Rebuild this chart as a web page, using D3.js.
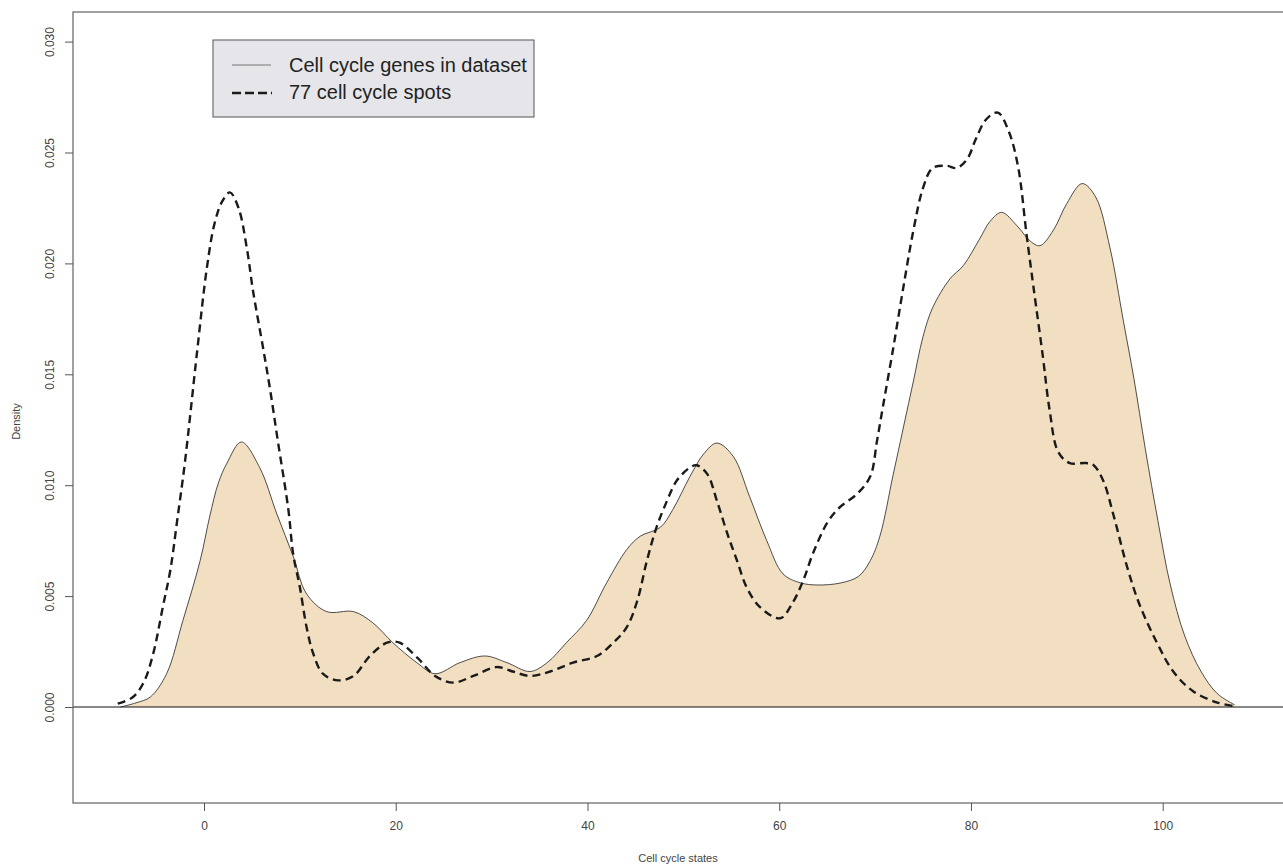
<!DOCTYPE html>
<html>
<head>
<meta charset="utf-8">
<script src="https://cdn.jsdelivr.net/npm/d3@7"></script>
<style>
  body { margin: 0; background: #fff; }
  text { font-family: "Liberation Sans", Arial, sans-serif; }
</style>
</head>
<body>
<div id="chart"></div>
<script>
const width = 1283;
const height = 867;

// density of cell cycle genes in dataset (filled curve)
const genesState = [-8.7, -7, -5.6, -3.9, -2.2, -0.4, 0.6, 1.5, 2.4, 3.9, 5.8, 7.6, 9.3, 10.7, 12.8, 15.6, 17.6, 19.7, 22.2, 24.1, 26.7, 29.3, 31.6, 34.0, 35.8, 37.8, 39.9, 42.0, 44.1, 45.5, 47.6, 48.9, 50.7, 52.1, 53.5, 55.2, 56.9, 58.7, 60.4, 62.2, 64.0, 66.5, 68.3, 69.5, 70.5, 71.9, 73.3, 74.0, 75.0, 76.0, 77.8, 79.2, 80.9, 82.0, 83.2, 84.8, 86.2, 87.2, 88.6, 90.0, 91.6, 93.0, 94.5, 95.9, 97.0, 98.2, 99.5, 100.8, 102.3, 104.0, 105.7, 107.5];
const genesDensity = [0, 0.0002, 0.00045, 0.0015, 0.0039, 0.0066, 0.0086, 0.0101, 0.011, 0.01195, 0.0108, 0.0087, 0.0068, 0.0051, 0.0043, 0.0043, 0.0038, 0.0029, 0.002, 0.0015, 0.002, 0.0023, 0.002, 0.0016, 0.002, 0.0029, 0.0039, 0.0056, 0.0071, 0.0077, 0.0081, 0.0089, 0.0104, 0.0114, 0.0119, 0.0113, 0.0095, 0.0075, 0.006, 0.0056, 0.0055, 0.0056, 0.0059, 0.0066, 0.0077, 0.0105, 0.0133, 0.0147, 0.0167, 0.018, 0.0193, 0.0199, 0.0211, 0.0219, 0.0223, 0.0217, 0.021, 0.0208, 0.0215, 0.0227, 0.0236, 0.023, 0.0207, 0.0174, 0.0148, 0.0116, 0.0084, 0.0055, 0.0032, 0.0016, 0.0006, 0.0001];

// density of the 77 cell cycle spots (dashed curve)
const spotsState = [-9.0, -7.4, -6.3, -5.3, -4.3, -3.5, -2.8, -2.0, -0.7, 0.3, 1.1, 1.9, 2.7, 3.6, 4.5, 5.1, 6.2, 6.9, 7.7, 8.8, 9.3, 10.0, 10.7, 11.4, 12.4, 14.0, 15.6, 17.3, 19.1, 20.4, 22.3, 24.1, 26.0, 28.1, 30.5, 32.2, 34.0, 36.1, 38.5, 41.0, 42.7, 44.1, 45.2, 46.2, 47.2, 48.3, 49.3, 50.7, 51.4, 52.5, 53.5, 54.6, 55.6, 56.6, 58.0, 60.1, 61.4, 62.5, 63.5, 65.0, 66.3, 68.1, 69.5, 70.2, 70.8, 71.9, 72.9, 74.0, 75.0, 76.0, 77.5, 78.5, 79.6, 80.5, 81.6, 82.8, 83.9, 84.9, 85.8, 86.5, 87.5, 88.2, 89.1, 90.3, 92.0, 92.8, 93.8, 94.9, 96.3, 97.6, 99.4, 101.1, 103.2, 105.7, 107.3];
const spotsDensity = [0.00015, 0.00045, 0.0011, 0.0024, 0.0045, 0.0062, 0.0084, 0.011, 0.0161, 0.0198, 0.0218, 0.0228, 0.0232, 0.0225, 0.0206, 0.0188, 0.0161, 0.0143, 0.012, 0.0089, 0.0069, 0.0054, 0.0036, 0.0024, 0.0015, 0.0012, 0.0014, 0.0023, 0.0029, 0.0029, 0.0022, 0.0014, 0.0011, 0.0014, 0.0018, 0.0016, 0.0014, 0.0016, 0.002, 0.0023, 0.0029, 0.0036, 0.0048, 0.0066, 0.0081, 0.0093, 0.0102, 0.0108, 0.0109, 0.0105, 0.0093, 0.0078, 0.0066, 0.0054, 0.0045, 0.004, 0.0047, 0.0057, 0.0069, 0.0083, 0.009, 0.0096, 0.0104, 0.012, 0.0135, 0.0162, 0.0188, 0.0215, 0.0234, 0.0243, 0.0244, 0.0243, 0.0247, 0.0256, 0.0265, 0.0268, 0.026, 0.0244, 0.0213, 0.019, 0.0158, 0.0134, 0.0115, 0.011, 0.011, 0.0109, 0.0102, 0.0086, 0.0063, 0.0046, 0.0029, 0.0016, 0.0007, 0.0002, 0.00005];

const xTicks = [0, 20, 40, 60, 80, 100];
const yTicks = [0, 0.005, 0.01, 0.015, 0.02, 0.025, 0.03];
const legendLabels = ["Cell cycle genes in dataset", "77 cell cycle spots"];

const plot = { left: 73, top: 12, right: 1283, bottom: 803 };

const svg = d3
  .select("#chart")
  .append("svg")
  .attr("width", width)
  .attr("height", height);

const xScale = d3.scaleLinear().domain([0, 100]).range([204, 1162.7]);
const yScale = d3.scaleLinear().domain([0, 0.03]).range([707, 41.6]);

const genes = genesState.map((s, i) => [s, genesDensity[i]]);
const spots = spotsState.map((s, i) => [s, spotsDensity[i]]);

const curve = d3.curveCatmullRom.alpha(0.5);

// filled area
svg.append("path")
  .datum(genes)
  .attr("fill", "#F2DFC1")
  .attr("d", d3.area()
    .x((d) => xScale(d[0]))
    .y0(yScale(0))
    .y1((d) => yScale(Math.max(0, d[1])))
    .curve(curve));

svg.append("path")
  .datum(genes)
  .attr("fill", "none")
  .attr("stroke", "#222")
  .attr("stroke-width", 0.8)
  .attr("d", d3.line()
    .x((d) => xScale(d[0]))
    .y((d) => yScale(d[1]))
    .curve(curve));

// zero line
svg.append("line")
  .attr("x1", plot.left).attr("x2", plot.right)
  .attr("y1", yScale(0)).attr("y2", yScale(0))
  .attr("stroke", "#111")
  .attr("stroke-width", 1);

// dashed curve
svg.append("path")
  .datum(spots)
  .attr("fill", "none")
  .attr("stroke", "#1a1a1a")
  .attr("stroke-width", 2.4)
  .attr("stroke-dasharray", "8,5")
  .attr("d", d3.line()
    .x((d) => xScale(d[0]))
    .y((d) => yScale(d[1]))
    .curve(curve));

// box
svg.append("rect")
  .attr("x", plot.left).attr("y", plot.top)
  .attr("width", plot.right - plot.left + 2)
  .attr("height", plot.bottom - plot.top)
  .attr("fill", "none")
  .attr("stroke", "#6e6e6e")
  .attr("stroke-width", 1.3);

// x axis
const xAxis = svg.append("g")
  .attr("transform", `translate(0,${plot.bottom})`)
  .call(d3.axisBottom(xScale).tickValues(xTicks).tickSize(8).tickPadding(10).tickFormat(d3.format("d")));
xAxis.select(".domain").remove();
xAxis.selectAll("line").attr("stroke", "#555");
xAxis.selectAll("text").attr("fill", "#444").style("font-size", "12px");

// y axis, labels rotated like R's default
const yAxis = svg.append("g")
  .attr("transform", `translate(${plot.left},0)`)
  .call(d3.axisLeft(yScale).tickValues(yTicks).tickSize(8).tickFormat(d3.format(".3f")));
yAxis.select(".domain").remove();
yAxis.selectAll("line").attr("stroke", "#555");
yAxis.selectAll("text")
  .attr("fill", "#444")
  .style("font-size", "12px")
  .attr("text-anchor", "middle")
  .attr("x", 0)
  .attr("y", 0)
  .attr("dy", 0)
  .attr("dominant-baseline", "central")
  .attr("transform", "translate(-23,0) rotate(-90)");

// axis titles
svg.append("text")
  .attr("x", (plot.left + plot.right) / 2)
  .attr("y", 862)
  .attr("text-anchor", "middle")
  .attr("fill", "#444")
  .style("font-size", "11px")
  .text("Cell cycle states");

svg.append("text")
  .attr("transform", `translate(20,${(plot.top + plot.bottom) / 2 + 14}) rotate(-90)`)
  .attr("text-anchor", "middle")
  .attr("fill", "#444")
  .style("font-size", "11px")
  .text("Density");

// legend
const legend = svg.append("g").attr("transform", "translate(213,40)");
legend.append("rect")
  .attr("width", 321).attr("height", 77)
  .attr("fill", "#E6E6EA")
  .attr("stroke", "#555")
  .attr("stroke-width", 1);

legend.append("line")
  .attr("x1", 19).attr("x2", 58).attr("y1", 25).attr("y2", 25)
  .attr("stroke", "#777").attr("stroke-width", 1.2);
legend.append("line")
  .attr("x1", 19).attr("x2", 59).attr("y1", 53).attr("y2", 53)
  .attr("stroke", "#1a1a1a").attr("stroke-width", 2.6)
  .attr("stroke-dasharray", "9,4");

legend.selectAll("text.lab")
  .data(legendLabels)
  .enter()
  .append("text")
  .attr("class", "lab")
  .attr("x", 76)
  .attr("y", (d, i) => 25 + i * 27)
  .attr("dominant-baseline", "central")
  .attr("fill", "#222")
  .style("font-size", "20px")
  .text((d) => d);
</script>
</body>
</html>
